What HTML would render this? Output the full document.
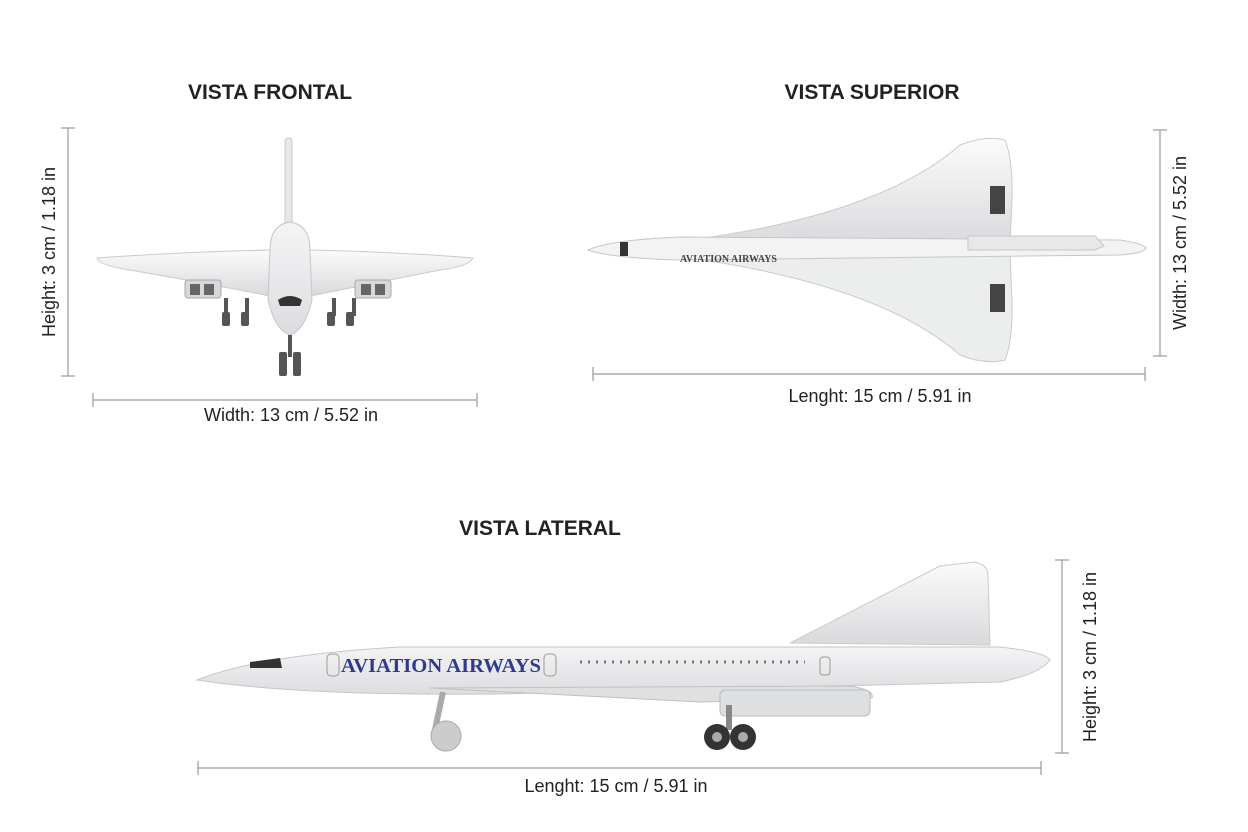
<!DOCTYPE html>
<html><head><meta charset="utf-8"><style>
html,body{margin:0;padding:0;background:#fff;}
svg{display:block}
text{font-family:"Liberation Sans",sans-serif;fill:#222}
.ser{font-family:"Liberation Serif",serif;}
</style></head><body>
<svg width="1248" height="832" viewBox="0 0 1248 832" xmlns="http://www.w3.org/2000/svg">
<defs>
<linearGradient id="g1" x1="0" y1="0" x2="0" y2="1"><stop offset="0" stop-color="#fbfbfb"/><stop offset="1" stop-color="#d9dadc"/></linearGradient>
<linearGradient id="g2" x1="0" y1="0" x2="0" y2="1"><stop offset="0" stop-color="#f4f4f5"/><stop offset="1" stop-color="#dcdde0"/></linearGradient>
</defs>
<rect width="1248" height="832" fill="#fff"/>
<text x="270" y="99" font-size="21" font-weight="600" text-anchor="middle">VISTA FRONTAL</text>
<text x="872" y="99" font-size="21" font-weight="600" text-anchor="middle">VISTA SUPERIOR</text>
<text x="540" y="535" font-size="21" font-weight="600" text-anchor="middle">VISTA LATERAL</text>

<g stroke="#999" stroke-width="1.2" fill="none">
<line x1="68" y1="128" x2="68" y2="376"/><line x1="61" y1="128" x2="75" y2="128"/><line x1="61" y1="376" x2="75" y2="376"/>
<line x1="93" y1="400" x2="477" y2="400"/><line x1="93" y1="393" x2="93" y2="407"/><line x1="477" y1="393" x2="477" y2="407"/>
<line x1="1160" y1="130" x2="1160" y2="356"/><line x1="1153" y1="130" x2="1167" y2="130"/><line x1="1153" y1="356" x2="1167" y2="356"/>
<line x1="593" y1="374" x2="1145" y2="374"/><line x1="593" y1="367" x2="593" y2="381"/><line x1="1145" y1="367" x2="1145" y2="381"/>
<line x1="1062" y1="560" x2="1062" y2="753"/><line x1="1055" y1="560" x2="1069" y2="560"/><line x1="1055" y1="753" x2="1069" y2="753"/>
<line x1="198" y1="768" x2="1041" y2="768"/><line x1="198" y1="761" x2="198" y2="775"/><line x1="1041" y1="761" x2="1041" y2="775"/>
</g>
<text x="291" y="421" font-size="18" text-anchor="middle">Width: 13 cm / 5.52 in</text>
<text x="880" y="402" font-size="18" text-anchor="middle">Lenght: 15 cm / 5.91 in</text>
<text x="616" y="792" font-size="18" text-anchor="middle">Lenght: 15 cm / 5.91 in</text>
<text transform="translate(55,252) rotate(-90)" font-size="18" text-anchor="middle">Height: 3 cm / 1.18 in</text>
<text transform="translate(1186,243) rotate(-90)" font-size="18" text-anchor="middle">Width: 13 cm / 5.52 in</text>
<text transform="translate(1096,657) rotate(-90)" font-size="18" text-anchor="middle">Height: 3 cm / 1.18 in</text>

<g>
<rect x="285" y="138" width="7" height="110" rx="3" fill="#e6e7e9" stroke="#c8c9cc"/>
<path d="M97,258 Q180,252 270,250 L310,250 Q400,252 473,258 Q470,266 440,270 Q380,282 310,296 L270,296 Q200,282 130,270 Q100,266 97,258 Z" fill="url(#g1)" stroke="#c9cacd"/>
<rect x="185" y="280" width="36" height="18" rx="3" fill="#d7d8db" stroke="#aaa"/>
<rect x="190" y="284" width="10" height="11" fill="#666"/><rect x="204" y="284" width="10" height="11" fill="#666"/>
<rect x="355" y="280" width="36" height="18" rx="3" fill="#d7d8db" stroke="#aaa"/>
<rect x="361" y="284" width="10" height="11" fill="#666"/><rect x="375" y="284" width="10" height="11" fill="#666"/>
<path d="M270,250 Q270,225 290,222 Q310,225 310,250 L312,300 Q305,330 290,335 Q275,330 268,300 Z" fill="url(#g2)" stroke="#c5c6c9"/>
<path d="M278,300 Q290,292 302,300 L300,306 L280,306 Z" fill="#333"/>
<g fill="#555"><rect x="224" y="298" width="4" height="18"/><rect x="245" y="298" width="4" height="18"/><rect x="222" y="312" width="8" height="14" rx="2"/><rect x="241" y="312" width="8" height="14" rx="2"/>
<rect x="332" y="298" width="4" height="18"/><rect x="352" y="298" width="4" height="18"/><rect x="327" y="312" width="8" height="14" rx="2"/><rect x="346" y="312" width="8" height="14" rx="2"/>
<rect x="288" y="335" width="4" height="22"/><rect x="279" y="352" width="8" height="24" rx="2"/><rect x="293" y="352" width="8" height="24" rx="2"/></g>
</g>

<g>
<path d="M690,240 Q880,215 960,145 Q985,135 1005,140 Q1013,160 1012,200 L1010,245 Z" fill="url(#g1)" stroke="#c9cacd"/>
<path d="M690,258 Q880,285 960,355 Q985,365 1005,360 Q1013,340 1012,300 L1010,255 Z" fill="#eceded" stroke="#c9cacd"/>
<path d="M588,250 Q610,240 680,237 L1120,240 Q1145,244 1146,248 Q1145,253 1120,255 L680,260 Q610,258 588,250 Z" fill="#f3f3f4" stroke="#c5c6c9"/>
<path d="M968,236 L1095,236 L1104,246 L1095,250 L968,250 Z" fill="#e7e8ea" stroke="#c5c6c9"/>
<rect x="990" y="186" width="15" height="28" fill="#444"/><rect x="990" y="284" width="15" height="28" fill="#444"/>
<rect x="620" y="242" width="8" height="14" fill="#333"/>
<text x="680" y="262" class="ser" font-size="10" font-weight="bold" style="fill:#444">AVIATION AIRWAYS</text>
</g>

<g>
<path d="M790,643 L940,566 L975,562 Q988,565 988,575 L990,645 Z" fill="url(#g1)" stroke="#c9cacd"/>
<path d="M197,680 Q260,655 400,647 L1000,647 Q1045,652 1050,660 Q1040,674 1000,682 L500,694 Q300,696 197,680 Z" fill="url(#g2)" stroke="#c5c6c9"/>
<path d="M430,688 L850,686 Q875,690 872,698 L700,702 Z" fill="#dfe0e2" stroke="#bfc0c3"/>
<rect x="720" y="690" width="150" height="26" rx="5" fill="#dedfe1" stroke="#bbb"/>
<path d="M250,662 L280,658 L282,668 L250,668 Z" fill="#333"/>
<rect x="327" y="654" width="12" height="22" rx="4" fill="none" stroke="#999"/>
<rect x="544" y="654" width="12" height="22" rx="4" fill="none" stroke="#999"/>
<rect x="820" y="657" width="10" height="18" rx="3" fill="none" stroke="#999"/>
<text x="341" y="672" class="ser" font-size="20" font-weight="bold" textLength="200" lengthAdjust="spacingAndGlyphs" style="fill:#2f3a8c">AVIATION AIRWAYS</text>
<line x1="580" y1="662" x2="805" y2="662" stroke="#777" stroke-width="3" stroke-dasharray="2,6"/>
<rect x="440" y="692" width="6" height="38" fill="#aaa" transform="rotate(12 443 692)"/>
<circle cx="446" cy="736" r="15" fill="#ccc" stroke="#aaa"/>
<rect x="726" y="705" width="6" height="25" fill="#888"/>
<circle cx="717" cy="737" r="13" fill="#333"/><circle cx="717" cy="737" r="5" fill="#aaa"/>
<circle cx="743" cy="737" r="13" fill="#333"/><circle cx="743" cy="737" r="5" fill="#aaa"/>
</g>
</svg>
</body></html>
